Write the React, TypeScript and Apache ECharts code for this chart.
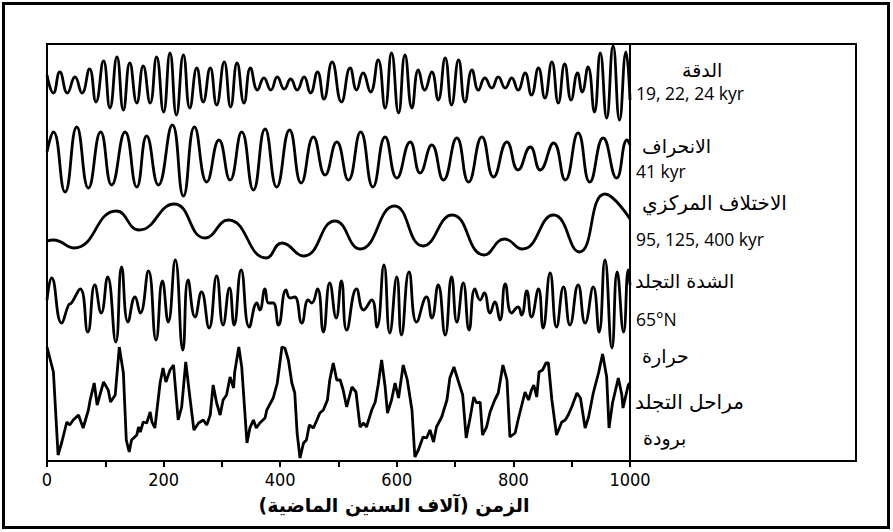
import React, { useEffect, useRef } from 'react';
import * as echarts from 'echarts';

// Time axis (thousands of years ago)
const xTickValues = [0, 200, 400, 600, 800, 1000];

// Precession (19, 22, 24 kyr) – read extrema
const precessionKyr = [0, 11, 22, 35, 48, 60, 73, 84, 97, 108, 120, 131, 142, 154, 165, 177, 188, 200, 211, 222, 234, 245, 257, 268, 280, 291, 304, 315, 326, 338, 349, 361, 372, 384, 395, 407, 418, 429, 441, 452, 464, 475, 489, 505, 520, 531, 542, 555, 568, 580, 591, 603, 614, 626, 637, 648, 660, 671, 683, 694, 706, 717, 729, 740, 751, 763, 774, 786, 797, 808, 820, 831, 843, 854, 866, 877, 888, 899, 910, 918, 928, 939, 949, 960, 971, 982, 993, 1000];
const precessionVal = [8, -10, 11, -10, 6, -10, 14, -19, 22, -25, 26, -27, 20, -20, 17, -20, 26, -29, 30, -32, 28, -25, 15, -19, 15, -22, 21, -24, 20, -20, 15, -7, 5, -7, 6, -6, 4, -7, 6, -10, 11, -16, 21, -19, 15, -7, 10, -9, 23, -25, 30, -30, 28, -25, 13, -7, 11, -17, 25, -22, 23, -19, 13, -7, 5, -5, 6, -5, 5, -7, 10, -12, 15, -15, 21, -20, 19, -17, 10, -9, 16, -29, 30, -35, 37, -37, 31, -17];

// Obliquity (41 kyr)
const obliquityKyr = [0, 11, 31, 51, 71, 92, 111, 134, 154, 171, 191, 215, 234, 253, 274, 295, 314, 334, 354, 374, 394, 416, 436, 457, 477, 497, 517, 538, 559, 580, 600, 623, 640, 660, 680, 703, 723, 746, 766, 789, 808, 829, 846, 869, 889, 911, 931, 954, 977, 995, 1000];
const obliquityVal = [8, 28, -32, 33, -28, 28, -25, 28, -27, 24, -25, 35, -36, 33, -22, 20, -20, 28, -30, 31, -27, 30, -23, 23, -15, 18, -20, 28, -27, 23, -18, 18, -13, 15, -20, 22, -22, 23, -17, 18, -10, 13, -10, 17, -20, 27, -22, 22, -18, 20, 15];

// Eccentricity (95, 125, 400 kyr)
const eccentricityKyr = [0, 11, 46, 119, 158, 218, 271, 311, 376, 403, 440, 494, 537, 596, 645, 695, 750, 785, 815, 869, 913, 957, 1000];
const eccentricityVal = [-16, -15, -23, 14, -5, 21, -13, 5, -33, -18, -31, 4, -24, 19, -21, 10, -30, -14, -24, 10, -27, 31, 6];

// Insolation 65°N
const insolationKyr = [0, 8, 25, 37, 42, 57, 70, 82, 93, 104, 118, 128, 139, 151, 160, 174, 187, 198, 208, 220, 233, 242, 254, 265, 278, 291, 302, 313, 321, 333, 347, 360, 365, 374, 380, 388, 397, 410, 417, 425, 437, 448, 454, 464, 474, 485, 496, 505, 514, 531, 543, 557, 566, 578, 588, 600, 608, 621, 634, 651, 660, 671, 683, 694, 703, 714, 724, 734, 743, 750, 760, 768, 777, 786, 797, 808, 814, 823, 831, 843, 851, 863, 874, 886, 897, 911, 923, 937, 947, 957, 969, 978, 989, 997, 1000];
const insolationVal = [5, 27, -18, 0, 2, 16, -27, 20, -8, 28, -37, 38, -17, 8, -8, 34, -35, 24, -17, 45, -45, 25, -12, 13, -23, 29, -20, 17, -20, 35, -22, 2, -5, 16, 2, 2, -20, 15, 7, 8, -18, 5, 2, 16, -27, 22, -13, 24, -25, 16, -5, 5, -22, 40, -28, 28, -30, 33, -17, 8, -13, 20, -30, 28, -17, 22, -25, 16, 5, 12, -8, 3, -15, 21, -8, -2, -10, 14, -12, 16, -23, 32, -22, 18, -20, 20, -18, 18, -27, 45, -43, 33, -27, 35, 20];

// Glacial stages (warm up / cold down)
const climateKyr = [0, 11, 19, 25, 34, 39, 45, 54, 62, 71, 74, 81, 86, 97, 105, 109, 117, 124, 131, 136, 141, 145, 154, 157, 160, 165, 171, 177, 180, 185, 194, 199, 204, 211, 217, 225, 231, 238, 245, 252, 260, 268, 274, 280, 285, 291, 297, 302, 308, 314, 320, 322, 329, 334, 343, 348, 354, 359, 365, 374, 377, 388, 395, 403, 408, 414, 420, 425, 429, 434, 440, 445, 450, 457, 463, 468, 474, 481, 485, 491, 497, 503, 508, 514, 523, 530, 537, 543, 548, 557, 563, 568, 574, 580, 584, 591, 597, 603, 611, 618, 626, 631, 637, 645, 651, 657, 663, 668, 677, 686, 691, 698, 706, 713, 719, 726, 732, 737, 743, 747, 754, 760, 768, 774, 782, 789, 794, 803, 808, 820, 826, 831, 835, 840, 844, 850, 856, 860, 866, 874, 883, 889, 894, 900, 909, 915, 923, 929, 937, 946, 953, 960, 964, 970, 980, 986, 988, 997, 1000];
const climateVal = [53, 28, -55, -43, -22, -25, -20, -15, -28, -10, 0, 17, -5, 18, 10, -2, 5, 53, 27, -40, -52, -40, -35, -27, -32, -22, -23, -12, -22, -28, 17, 32, 18, 30, 35, -20, -7, 38, 3, -30, -23, -20, -25, -15, 15, -3, -15, 0, 5, 23, 12, 28, 53, 33, -43, -28, -20, -28, -23, -18, -10, 2, 17, 53, 52, 40, 17, 7, -33, -58, -43, -40, -25, -28, -20, -13, -10, 0, 20, 37, 20, 20, 10, -7, 13, 8, -27, -23, -27, -10, -2, 15, 40, 13, -13, 0, 17, 2, 35, 20, -10, -57, -50, -37, -38, -30, -42, -27, -17, 0, 22, 33, 18, 5, -38, -17, 3, -3, -2, -35, -27, -12, 0, 7, 35, 20, -37, -33, -20, 8, 0, 10, 15, 3, 28, 30, 37, 37, 0, -35, -22, -20, -15, -7, 7, 2, -28, -17, 7, 27, 46, 23, -28, -3, 22, 5, -8, 15, 17];

// Right-hand labels
const labelTexts = [
  'الدقة',
  '19, 22, 24 kyr',
  'الانحراف',
  '41 kyr',
  'الاختلاف المركزي',
  '95, 125, 400 kyr',
  'الشدة التجلد',
  '65°N',
  'حرارة',
  'مراحل التجلد',
  'برودة',
];
const axisTitle = 'الزمن (آلاف السنين الماضية)';

const zip = (a: number[], b: number[]) => a.map((t, i) => [t, b[i]]);

const GRID_TOP = 44;
const GRID_BOTTOM_Y = 461;
// vertical centre (px) of each trace band
const bandCentres = [83, 160, 225, 305, 400];

const arabicFont = '"DejaVu Sans", "Noto Sans", sans-serif';
const latinFont = '"Open Sans", "Noto Sans", sans-serif';

export default function App() {
  const ref = useRef<HTMLDivElement>(null);
  useEffect(() => {
    const chart = echarts.init(ref.current!, null, { renderer: 'svg' });
    const seriesData = [
      zip(precessionKyr, precessionVal),
      zip(obliquityKyr, obliquityVal),
      zip(eccentricityKyr, eccentricityVal),
      zip(insolationKyr, insolationVal),
      zip(climateKyr, climateVal),
    ];
    const yAxes = bandCentres.map((c) => ({
      type: 'value',
      min: c - GRID_BOTTOM_Y,
      max: c - GRID_TOP,
      show: false,
    }));
    const labelPos = [
      { x: 682, y: 70, f: arabicFont, s: 19 },
      { x: 636, y: 93, f: latinFont, s: 17.5 },
      { x: 642, y: 146, f: arabicFont, s: 19 },
      { x: 636, y: 171, f: latinFont, s: 17.5 },
      { x: 642, y: 203, f: arabicFont, s: 20 },
      { x: 636, y: 239, f: latinFont, s: 17.5 },
      { x: 635, y: 281, f: arabicFont, s: 19 },
      { x: 636, y: 319, f: latinFont, s: 17.5 },
      { x: 642, y: 356, f: arabicFont, s: 19 },
      { x: 635, y: 402, f: arabicFont, s: 20 },
      { x: 643, y: 438, f: arabicFont, s: 19 },
    ];
    const graphics: any[] = [
      {
        type: 'rect',
        shape: { x: 3.5, y: 3.5, width: 885, height: 524 },
        style: { fill: 'none', stroke: '#000', lineWidth: 3 },
        silent: true,
      },
      {
        type: 'rect',
        shape: { x: 630, y: GRID_TOP, width: 226, height: GRID_BOTTOM_Y - GRID_TOP },
        style: { fill: 'none', stroke: '#000', lineWidth: 2 },
        silent: true,
      },
      ...labelTexts.map((t, i) => ({
        type: 'text',
        x: labelPos[i].x,
        y: labelPos[i].y,
        style: {
          text: t,
          fill: '#000',
          fontSize: labelPos[i].s,
          fontFamily: labelPos[i].f,
          align: 'left',
          verticalAlign: 'middle',
        },
        silent: true,
      })),
      {
        type: 'text',
        x: 394,
        y: 505,
        style: {
          text: axisTitle,
          fill: '#000',
          fontSize: 19,
          fontWeight: 'bold',
          fontFamily: arabicFont,
          align: 'center',
          verticalAlign: 'middle',
        },
        silent: true,
      },
    ];
    chart.setOption({
      animation: false,
      backgroundColor: '#fff',
      grid: {
        left: 47,
        right: 893 - 630,
        top: GRID_TOP,
        bottom: 532 - GRID_BOTTOM_Y,
        show: true,
        borderColor: '#000',
        borderWidth: 2,
        backgroundColor: 'transparent',
      },
      xAxis: {
        type: 'value',
        min: 0,
        max: 1000,
        interval: 100,
        axisLine: { show: true, onZero: false, lineStyle: { color: '#000', width: 2 } },
        axisTick: { show: true, length: 6, lineStyle: { color: '#000', width: 2 } },
        splitLine: { show: false },
        axisLabel: {
          color: '#000',
          fontSize: 18,
          fontFamily: '"DejaVu Sans Condensed", "Liberation Sans Narrow", sans-serif',
          margin: 9,
          formatter: (v: number) => (xTickValues.includes(v) ? String(v) : ''),
        },
      },
      yAxis: yAxes,
      graphic: graphics,
      series: seriesData.map((d, i) => ({
        type: 'line',
        yAxisIndex: i,
        data: d,
        smooth: i < 4 ? 0.5 : false,
        showSymbol: false,
        symbol: 'none',
        clip: false,
        silent: true,
        lineStyle: { color: '#000', width: 2.8 },
      })),
    });
    return () => chart.dispose();
  }, []);
  return (
    <div
      ref={ref}
      style={{ position: 'absolute', left: 0, top: 0, width: 893, height: 532, background: '#fff' }}
    />
  );
}
